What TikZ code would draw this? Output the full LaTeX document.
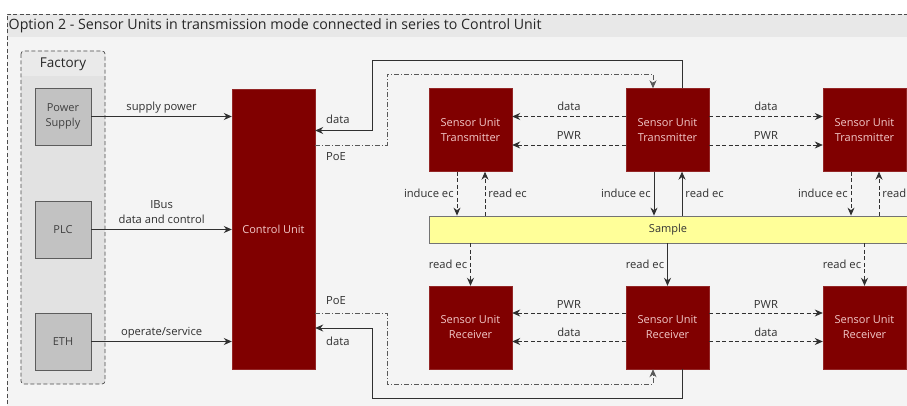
\documentclass[tikz,border=0pt]{standalone}
\usepackage{fontspec}
\setmainfont{Open Sans}
\usetikzlibrary{arrows.meta}
\definecolor{unitred}{HTML}{800000}
\definecolor{unittext}{HTML}{F2C8C8}
\definecolor{srcfill}{HTML}{C2C2C2}
\definecolor{srcline}{HTML}{5C5C5C}
\definecolor{samplefill}{HTML}{FFFF99}
\definecolor{linecol}{HTML}{303030}
\definecolor{pagebg}{HTML}{F4F4F4}
\definecolor{bandbg}{HTML}{E8E8E8}
\definecolor{factbg}{HTML}{E2E2E2}
\definecolor{factband}{HTML}{EAEAEA}
\begin{document}
\begin{tikzpicture}[x=1pt,y=-1pt,
  lbl/.style={font=\fontsize{11.2}{15}\selectfont, text=linecol, inner sep=1pt},
  unit/.style={draw=unitred!85!white, fill=unitred, text=unittext, align=center,
    font=\fontsize{11}{15}\selectfont, minimum width=83pt, minimum height=83pt, inner sep=0pt},
  src/.style={draw=srcline, fill=srcfill, line width=0.9pt, text=black!75, align=center,
    font=\fontsize{11}{15}\selectfont, minimum width=56pt, minimum height=57pt, inner sep=0pt},
  arr/.style={draw=linecol, line width=0.8pt, -{Stealth[length=8pt,width=7pt]}},
  dsh/.style={arr, dash pattern=on 4pt off 2.5pt},
  ddot/.style={arr, dash pattern=on 5pt off 2pt on 1pt off 2pt, draw=black!65},
  frame/.style={draw=black!70, line width=0.7pt, dash pattern=on 4pt off 2.5pt}
]
\clip (0,0) rectangle (907,406);
\useasboundingbox (0,0) rectangle (907,406);
\fill[white] (0,0) rectangle (907,406);

% outer option frame with title band
\fill[pagebg] (7,14) rectangle (930,430);
\fill[bandbg] (7,14) rectangle (930,37);
\draw[frame] (7,430) -- (7,14) -- (930,14);
\node[anchor=west, font=\fontsize{14.2}{16}\selectfont, text=black!85, inner sep=0pt] (title) at (8.5,26)
  {Option 2 - Sensor Units in transmission mode connected in series to Control Unit};

% factory group
\fill[factbg, rounded corners=3pt] (21,51) rectangle (105,384);
\fill[factband, rounded corners=3pt] (21,51) rectangle (105,76);
\fill[factband] (21,70) rectangle (105,76);
\draw[frame, rounded corners=3pt] (21,51) rectangle (105,384);
\node[font=\fontsize{13.5}{16}\selectfont, text=black!85] (factory) at (63,64) {Factory};

\node[src] (ps)  at (63,116.5) {Power\\Supply};
\node[src] (plc) at (63,229.5) {PLC};
\node[src] (eth) at (63,341.5) {ETH};

% control unit
\node[unit, minimum height=280pt] (cu) at (273.5,229) {Control Unit};

% sensor units
\node[unit] (t1) at (470.5,130) {Sensor Unit\\Transmitter};
\node[unit] (t2) at (667.5,130) {Sensor Unit\\Transmitter};
\node[unit] (t3) at (864.5,130) {Sensor Unit\\Transmitter};
\node[unit] (r1) at (470.5,327.5) {Sensor Unit\\Receiver};
\node[unit] (r2) at (667.5,327.5) {Sensor Unit\\Receiver};
\node[unit] (r3) at (864.5,327.5) {Sensor Unit\\Receiver};

% sample
\node[draw=black!55, fill=samplefill, line width=0.8pt, minimum width=478pt, minimum height=27pt,
  inner sep=0pt, font=\fontsize{11}{13}\selectfont, text=black!80] (sample) at (668,229.5) {Sample};

% factory inputs
\draw[arr] (ps.east) -- (ps.east -| cu.west) node[lbl, midway, above=2pt] {supply power};
\draw[arr] (plc.east) -- (plc.east -| cu.west) node[lbl, midway, above=4.5pt, align=center] {IBus\\data and control};
\draw[arr] (eth.east) -- (eth.east -| cu.west) node[lbl, midway, above=2pt] {operate/service};

% control unit <-> transmitter chain
\draw[arr] (t2.north -| 682,0) |- (372,60) |- (cu.east |- 0,130.5);
\draw[ddot] (cu.east |- 0,145) -| (387,74) -| (t2.north -| 653,0);
\node[lbl, anchor=west] (ldt) at (325,119) {data};
\node[lbl, anchor=west] (lpt) at (325,157) {PoE};

% control unit <-> receiver chain
\draw[ddot] (cu.east |- 0,313) -| (387,384) -| (r2.south -| 653,0);
\draw[arr] (r2.south -| 682,0) |- (372,398) |- (cu.east |- 0,328);
\node[lbl, anchor=west] (lpr) at (325,301) {PoE};
\node[lbl, anchor=west] (ldr) at (325,341) {data};

% transmitter chain links
\draw[dsh] (t2.west |- 0,116.5) -- (t1.east |- 0,116.5) node[lbl, midway, above=4pt] {data};
\draw[dsh] (t2.west |- 0,145) -- (t1.east |- 0,145) node[lbl, midway, above=4pt] {PWR};
\draw[dsh] (t2.east |- 0,116.5) -- (t3.west |- 0,116.5) node[lbl, midway, above=4pt] {data};
\draw[dsh] (t2.east |- 0,145) -- (t3.west |- 0,145) node[lbl, midway, above=4pt] {PWR};

% receiver chain links
\draw[dsh] (r2.west |- 0,313) -- (r1.east |- 0,313) node[lbl, midway, above=3pt] {PWR};
\draw[dsh] (r2.west |- 0,341.5) -- (r1.east |- 0,341.5) node[lbl, midway, above=3pt] {data};
\draw[dsh] (r2.east |- 0,313) -- (r3.west |- 0,313) node[lbl, midway, above=3pt] {PWR};
\draw[dsh] (r2.east |- 0,341.5) -- (r3.west |- 0,341.5) node[lbl, midway, above=3pt] {data};

% eddy current paths: transmitters to sample
\draw[dsh] (t1.south -| 457,0) -- (sample.north -| 457,0) node[lbl, midway, left=2pt] {induce ec};
\draw[dsh] (sample.north -| 485,0) -- (t1.south -| 485,0) node[lbl, midway, right=2pt] {read ec};
\draw[arr] (t2.south -| 654,0) -- (sample.north -| 654,0) node[lbl, midway, left=2pt] {induce ec};
\draw[arr] (sample.north -| 682,0) -- (t2.south -| 682,0) node[lbl, midway, right=2pt] {read ec};
\draw[dsh] (t3.south -| 851,0) -- (sample.north -| 851,0) node[lbl, midway, left=2pt] {induce ec};
\draw[dsh] (sample.north -| 879,0) -- (t3.south -| 879,0) node[lbl, midway, right=2pt] {read ec};

% eddy current paths: sample to receivers
\draw[dsh] (sample.south -| r1.south) -- (r1.north) node[lbl, midway, left=2pt] {read ec};
\draw[arr] (sample.south -| r2.south) -- (r2.north) node[lbl, midway, left=2pt] {read ec};
\draw[dsh] (sample.south -| r3.south) -- (r3.north) node[lbl, midway, left=2pt] {read ec};
\end{tikzpicture}
\end{document}
